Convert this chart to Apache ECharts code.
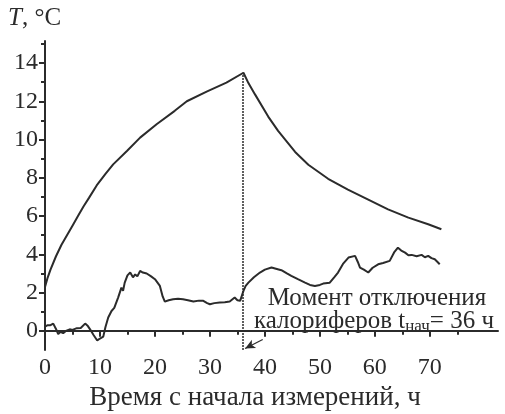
<!DOCTYPE html>
<html>
<head>
<meta charset="utf-8">
<script src="https://cdn.jsdelivr.net/npm/echarts@6/dist/echarts.min.js"></script>
<style>
html,body{margin:0;padding:0;background:#fff;}
#main{width:505px;height:414px;}
</style>
</head>
<body>
<div id="main"></div>
<script>
var myChart = echarts.init(document.getElementById('main'));

// верхняя кривая: температура воздуха, [ч, °C]
var upperData = [
    [0,2.3],[0.5,2.8],[1,3.2],[2,3.9],[3,4.5],[4,5.0],[5,5.5],[6,6.0],[7,6.5],[8,6.95],
    [9.4,7.6],[11,8.2],[12.4,8.7],[14.9,9.4],[17.3,10.1],[20.3,10.8],[23.6,11.5],[25.8,12.0],
    [29.4,12.5],[33,12.97],[36.1,13.49],[37,12.95],[38.2,12.36],[40.6,11.2],[42.4,10.45],[45.5,9.35],
    [47.9,8.68],[51.5,7.95],[55.1,7.38],[58.8,6.86],[62.4,6.35],[66.1,5.92],[69.7,5.57],[72.1,5.31]
];
// нижняя кривая
var lowerData = [
    [0,0.22],[0.5,0.3],[1,0.3],[1.5,0.38],[2,0.1],[2.4,-0.17],[2.8,-0.05],[3.3,-0.12],[3.8,0.0],
    [4.5,0.08],[5,0.05],[5.8,0.14],[6.5,0.15],[7.3,0.38],[7.8,0.25],[8.2,0.08],[8.8,-0.2],
    [9.5,-0.5],[10,-0.4],[10.6,-0.3],[11,0.2],[11.5,0.7],[12.1,1.04],[12.6,1.2],[13.3,1.74],
    [13.9,2.26],[14.2,2.1],[14.5,2.52],[15,2.9],[15.5,3.05],[16,2.8],[16.4,2.95],[16.8,2.85],
    [17.3,3.13],[17.8,3.05],[18.5,3.0],[19.3,2.85],[20,2.7],[20.9,2.35],[21.4,1.8],[21.8,1.53],
    [22.5,1.6],[23.3,1.65],[24.2,1.68],[25.1,1.65],[26,1.6],[27,1.53],[28,1.58],[28.8,1.57],
    [29.5,1.45],[30,1.39],[30.8,1.45],[31.8,1.48],[32.7,1.5],[33.6,1.53],[34.5,1.74],[35,1.6],
    [35.5,1.57],[36.1,2.09],[36.5,2.35],[37,2.52],[37.3,2.61],[38,2.8],[39.1,3.05],[40,3.2],
    [41.2,3.31],[42,3.25],[43,3.17],[44,3.0],[44.8,2.87],[46,2.7],[47.3,2.52],[48.2,2.4],
    [49.1,2.35],[50,2.4],[50.6,2.47],[51.8,2.52],[52.6,2.8],[53.3,3.05],[54.2,3.5],[55.2,3.83],
    [56.4,3.92],[56.9,3.6],[57.3,3.31],[58,3.2],[58.8,3.05],[59.6,3.3],[60.6,3.48],[61.5,3.55],
    [62.7,3.66],[63.5,4.1],[64.2,4.35],[64.8,4.2],[65.5,4.09],[66.1,3.95],[66.7,3.97],[67.6,3.9],
    [68.5,3.97],[69.1,3.85],[69.7,3.92],[70.3,3.8],[70.9,3.74],[71.4,3.6],[71.8,3.48]
];

var xMajor = [0,10,20,30,40,50,60,70];
var xMinor = [5,15,25,35,45,55,65,75];
var yMajor = [0,2,4,6,8,10,12,14];
var yMinor = [1,3,5,7,9,11,13,15];
var tOff = 36;      // момент отключения, ч
var tPeak = 13.49;

var ink = '#2b2b2b';
var font = 'Liberation Serif';

var option = {
    animation:false,
    textStyle:{fontFamily:font, color:ink},
    grid:{left:45, right:7, top:41, bottom:64},
    xAxis:[{
        type:'value', min:0, max:82.4,
        axisLine:{lineStyle:{color:ink, width:2}},
        axisTick:{customValues:xMajor, length:6, lineStyle:{color:ink, width:2}},
        axisLabel:{customValues:xMajor, fontSize:24, margin:6, color:ink, fontFamily:font},
        splitLine:{show:false}
    },{
        type:'value', min:0, max:82.4, position:'bottom',
        axisLine:{show:false},
        axisTick:{customValues:xMinor, length:4, lineStyle:{color:ink, width:2}},
        axisLabel:{show:false},
        splitLine:{show:false}
    }],
    yAxis:[{
        type:'value', min:-1, max:15.15,
        axisLine:{show:true, lineStyle:{color:ink, width:2}},
        axisTick:{show:true, customValues:yMajor, length:6, lineStyle:{color:ink, width:2}},
        axisLabel:{customValues:yMajor, fontSize:24, margin:7, color:ink, fontFamily:font},
        splitLine:{show:false}
    },{
        type:'value', min:-1, max:15.15, position:'left',
        axisLine:{show:false},
        axisTick:{show:true, customValues:yMinor, length:4, lineStyle:{color:ink, width:2}},
        axisLabel:{show:false},
        splitLine:{show:false}
    }],
    graphic:[{
        type:'text', left:8, top:6,
        style:{
            text:'{i|T}, °C',
            rich:{i:{fontStyle:'italic', fontSize:25, fontFamily:font, fill:ink}},
            fontSize:25, fontFamily:font, fill:ink
        }
    },{
        type:'text', x:255, y:398,
        style:{
            text:'Время с начала измерений, ч',
            fontSize:27, fontFamily:font, fill:ink,
            align:'center', verticalAlign:'middle'
        }
    },{
        type:'text', x:377, y:298,
        style:{
            text:'Момент отключения',
            fontSize:25, fontFamily:font, fill:ink,
            align:'center', verticalAlign:'middle'
        }
    },{
        type:'text', x:374, y:321,
        style:{
            text:'{n|калориферов t}{s|нач}{n|= 36 ч}',
            rich:{
                n:{fontSize:25, fontFamily:font, fill:ink},
                s:{fontSize:17, fontFamily:font, fill:ink, padding:[11,0,0,0]}
            },
            align:'center', verticalAlign:'middle'
        }
    }],
    series:[{
        type:'line', data:upperData, showSymbol:false,
        lineStyle:{color:ink, width:2},
        markLine:{
            silent:true, symbol:'none', label:{show:false},
            data:[
                [{coord:[tOff,-1], lineStyle:{color:ink, width:1.5, type:[2,1]}},
                 {coord:[tOff,tPeak]}],
                [{coord:[39.6,-0.45], symbol:'none', lineStyle:{color:ink, width:1.2, type:'solid'}},
                 {coord:[36.4,-0.92], symbol:'arrow', symbolSize:[7,10]}]
            ]
        }
    },{
        type:'line', data:lowerData, showSymbol:false,
        lineStyle:{color:ink, width:2}
    }]
};
myChart.setOption(option);
</script>
</body>
</html>
